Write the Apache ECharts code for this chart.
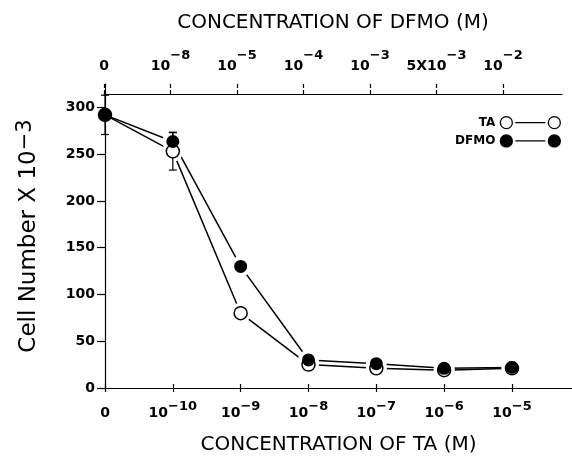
<!DOCTYPE html>
<html>
<head>
<meta charset="utf-8">
<script src="https://cdn.jsdelivr.net/npm/echarts@6/dist/echarts.min.js"></script>
<style>
  html, body { margin: 0; padding: 0; background: #fff; }
  #chart { width: 572px; height: 461px; }
</style>
</head>
<body>
<div id="chart"></div>
<script>
// x positions: TA concentration (bottom) and DFMO concentration (top)
const taLabels = ['0', '10^-10', '10^-9', '10^-8', '10^-7', '10^-6', '10^-5'];
const dfmoLabels = ['0', '10^-8', '10^-5', '10^-4', '10^-3', '5X10^-3', '10^-2'];
// cell number x 10^-3
const taCells = [292, 253, 80, 25, 21, 19, 21];
const dfmoCells = [292, 263.5, 130, 30, 26, 21, 22];
const taErr = [21, 20, 0, 0, 0, 0, 0];
const dfmoErr = [0, 10, 0, 0, 0, 0, 0];
const yTicks = [0, 50, 100, 150, 200, 250, 300];

const FONT = 'DejaVu Sans';
const positions = taLabels.map((_, i) => i);

const supText = (s) => s.replace(/\^(-?)(\d+)/, (m, sign, d) => '{sup|' + (sign ? '\u2212' : '') + d + '}');

const points = (vals) => vals.map((v, i) => [i, v]);
const errBars = (vals, errs) =>
  vals.map((v, i) => [i, v - errs[i], v + errs[i]]).filter((d) => d[2] > d[1]);

const axisLine = { lineStyle: { color: '#000', width: 1.2 } };
const tickStyle = { color: '#000', width: 1.2 };

const renderErr = (params, api) => {
  const lo = api.coord([api.value(0), api.value(1)]);
  const hi = api.coord([api.value(0), api.value(2)]);
  const w = 4;
  const style = { stroke: '#000', lineWidth: 1.2 };
  return {
    type: 'group',
    children: [
      { type: 'line', shape: { x1: lo[0], y1: lo[1], x2: hi[0], y2: hi[1] }, style },
      { type: 'line', shape: { x1: lo[0] - w, y1: lo[1], x2: lo[0] + w, y2: lo[1] }, style },
      { type: 'line', shape: { x1: hi[0] - w, y1: hi[1], x2: hi[0] + w, y2: hi[1] }, style },
    ],
  };
};

const legendIcon =
  'path://M0,6 A6,6 0 1,1 12,6 A6,6 0 1,1 0,6 Z M15,6 L45,6 M48,6 A6,6 0 1,1 60,6 A6,6 0 1,1 48,6 Z';

const labelFont = { fontFamily: FONT, fontWeight: 'bold', fontSize: 14, color: '#000' };

const myChart = echarts.init(document.getElementById('chart'), null, { renderer: 'canvas' });

const option = {
  backgroundColor: '#fff',
  animation: false,
  grid: [
    { left: 105, right: 0, top: 84, bottom: 73, outerBoundsMode: 'none' },
    { left: 104, width: 458, top: 84, height: 10, outerBoundsMode: 'none' },
  ],
  legend: {
    right: 6,
    top: 111,
    orient: 'vertical',
    align: 'right',
    itemWidth: 60,
    itemHeight: 12,
    itemGap: 5,
    selectedMode: false,
    textStyle: { fontFamily: FONT, fontWeight: 'bold', fontSize: 12, color: '#000' },
    data: [
      { name: 'TA', icon: legendIcon, itemStyle: { color: '#fff', borderColor: '#000', borderWidth: 1.3 } },
      { name: 'DFMO', icon: legendIcon, itemStyle: { color: '#000', borderColor: '#000', borderWidth: 1.3 } },
    ],
  },
  xAxis: [
    {
      gridIndex: 0,
      type: 'value',
      position: 'bottom',
      min: 0,
      max: 6.885,
      axisLine,
      splitLine: { show: false },
      axisTick: { customValues: positions, length: 4, lineStyle: tickStyle },
      axisLabel: {
        customValues: positions,
        margin: 12,
        lineHeight: 26,
        ...labelFont,
        formatter: (v) => supText(taLabels[v]),
        rich: { sup: { ...labelFont, fontSize: 13, lineHeight: 14, verticalAlign: 'top' } },
      },
      name: 'CONCENTRATION OF TA (M)',
      nameLocation: 'middle',
      nameGap: 47,
      nameTextStyle: { fontFamily: FONT, fontSize: 20, color: '#000' },
    },
    {
      gridIndex: 0,
      type: 'value',
      position: 'bottom',
      min: 0,
      max: 6.885,
      axisLine: { show: false },
      splitLine: { show: false },
      axisLabel: { show: false },
      axisTick: { customValues: positions, inside: true, length: 4, lineStyle: tickStyle },
    },
    {
      gridIndex: 1,
      type: 'value',
      position: 'top',
      min: 0,
      max: 6.887,
      axisLine,
      splitLine: { show: false },
      axisTick: { customValues: positions, length: 4, lineStyle: tickStyle },
      axisLabel: {
        customValues: positions,
        margin: 1,
        lineHeight: 34,
        ...labelFont,
        formatter: (v) => supText(dfmoLabels[v]),
        rich: { sup: { ...labelFont, fontSize: 13, lineHeight: 14, verticalAlign: 'top' } },
      },
      name: 'CONCENTRATION OF DFMO (M)',
      nameLocation: 'middle',
      nameGap: 51,
      nameTextStyle: { fontFamily: FONT, fontSize: 20, color: '#000' },
    },
    {
      gridIndex: 1,
      type: 'value',
      position: 'top',
      min: 0,
      max: 6.887,
      axisLine: { show: false },
      splitLine: { show: false },
      axisLabel: { show: false },
      axisTick: { customValues: positions, inside: true, length: 4, lineStyle: tickStyle },
    },
  ],
  yAxis: [
    {
      gridIndex: 0,
      type: 'value',
      min: 0,
      max: 325,
      axisLine: { show: true, ...axisLine },
      splitLine: { show: false },
      axisTick: { show: true, customValues: yTicks, length: 8, lineStyle: tickStyle },
      axisLabel: { customValues: yTicks, margin: 10, ...labelFont },
      name: 'Cell Number X 10{sup|\u22123}',
      nameLocation: 'middle',
      nameRotate: 90,
      nameGap: 62,
      nameTextStyle: {
        fontFamily: FONT,
        fontSize: 23,
        color: '#000',
        lineHeight: 28,
        rich: { sup: { fontFamily: FONT, fontSize: 21, color: '#000', lineHeight: 24, verticalAlign: 'top' } },
      },
    },
    { gridIndex: 1, type: 'value', show: false },
  ],
  series: [
    {
      name: 'TA line',
      type: 'line',
      data: points(taCells),
      symbol: 'none',
      lineStyle: { color: '#000', width: 1.5 },
      z: 2,
      silent: true,
    },
    {
      name: 'DFMO line',
      type: 'line',
      data: points(dfmoCells),
      symbol: 'none',
      lineStyle: { color: '#000', width: 1.5 },
      z: 2,
      silent: true,
    },
    {
      name: 'halo',
      type: 'scatter',
      data: points(taCells).concat(points(dfmoCells)).filter((d) => d[0] > 0),
      symbolSize: 21,
      itemStyle: { color: '#fff', opacity: 1 },
      z: 3,
      silent: true,
    },
    {
      name: 'TA err',
      type: 'custom',
      data: errBars(taCells, taErr),
      renderItem: renderErr,
      encode: { x: 0, y: [1, 2] },
      z: 4,
      silent: true,
    },
    {
      name: 'DFMO err',
      type: 'custom',
      data: errBars(dfmoCells, dfmoErr),
      renderItem: renderErr,
      encode: { x: 0, y: [1, 2] },
      z: 4,
      silent: true,
    },
    {
      name: 'TA',
      type: 'scatter',
      data: points(taCells),
      symbolSize: 13,
      itemStyle: { color: '#fff', borderColor: '#000', borderWidth: 1.5, opacity: 1 },
      z: 5,
    },
    {
      name: 'DFMO',
      type: 'scatter',
      data: points(dfmoCells),
      symbolSize: 13,
      itemStyle: { color: '#000', opacity: 1 },
      z: 6,
    },
  ],
};

myChart.setOption(option);
</script>
</body>
</html>
